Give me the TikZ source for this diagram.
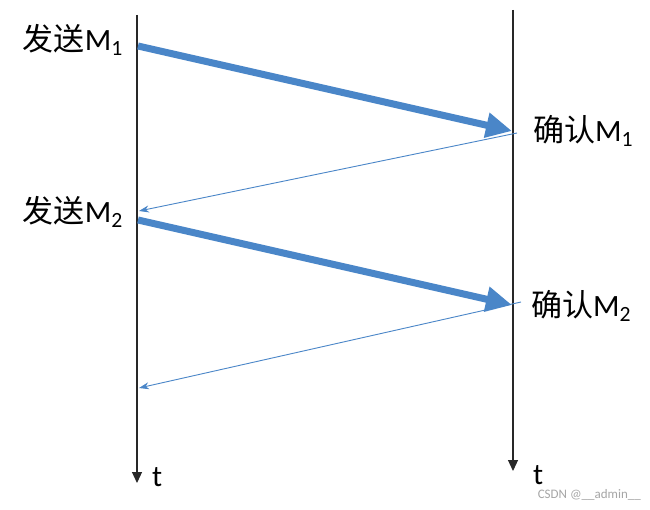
\documentclass[tikz,border=0pt]{standalone}
\usepackage{fontspec}
\setmainfont{Carlito}
\newfontfamily\cjk{Noto Sans CJK SC}
\usetikzlibrary{arrows.meta}
\definecolor{ablue}{RGB}{74,134,200}
\definecolor{tline}{RGB}{40,40,40}
\tikzset{
  timeaxis/.style={draw=tline, line width=1.2pt, -{Triangle[length=11pt,width=10pt]}},
  sendarrow/.style={draw=ablue, line width=7pt, -{Triangle[length=26pt,width=24pt]}},
  ackarrow/.style={draw=ablue, line width=0.9pt, -{Stealth[length=10pt,width=7pt]}},
  lbl/.style={font=\fontsize{31}{34}\selectfont, inner sep=0pt},
  tlbl/.style={font=\fontsize{30}{34}\selectfont, inner sep=0pt},
}
\newcommand{\CJ}[1]{{\cjk #1}}
\begin{document}
\begin{tikzpicture}[x=1pt,y=-1pt]
\useasboundingbox (0,0) rectangle (650,510);
\fill[white] (0,0) rectangle (650,510);
% time axes
\coordinate (LT) at (137,15);
\coordinate (LB) at (137,483);
\coordinate (RT) at (513,10);
\coordinate (RB) at (513,471);
\draw[timeaxis] (LT) -- (LB);
\draw[timeaxis] (RT) -- (RB);
% message points
\coordinate (S1) at (138,46);
\coordinate (A1) at (512,131);
\coordinate (B1) at (517,133);
\coordinate (E1) at (139,211);
\coordinate (S2) at (138,220);
\coordinate (A2) at (512,305);
\coordinate (B2) at (521,302);
\coordinate (E2) at (139,388);
\draw[sendarrow] (S1) -- (A1);
\draw[ackarrow] (B1) -- (E1);
\draw[sendarrow] (S2) -- (A2);
\draw[ackarrow] (B2) -- (E2);
% labels
\node[lbl, anchor=east] (ls1) at (123,40) {\CJ{发送}M\textsubscript{1}};
\node[lbl, anchor=west] (lr1) at (533,131) {\CJ{确认}M\textsubscript{1}};
\node[lbl, anchor=east] (ls2) at (123,212) {\CJ{发送}M\textsubscript{2}};
\node[lbl, anchor=west] (lr2) at (531,306) {\CJ{确认}M\textsubscript{2}};
\node[tlbl, anchor=west] (t1) at (152,477) {t};
\node[tlbl, anchor=west] (t2) at (533,475) {t};
\node[font=\fontsize{13}{15}\selectfont, text=gray!70, anchor=east, inner sep=0pt] (wm) at (641,495) {CSDN @\_\_admin\_\_};
\end{tikzpicture}
\end{document}
